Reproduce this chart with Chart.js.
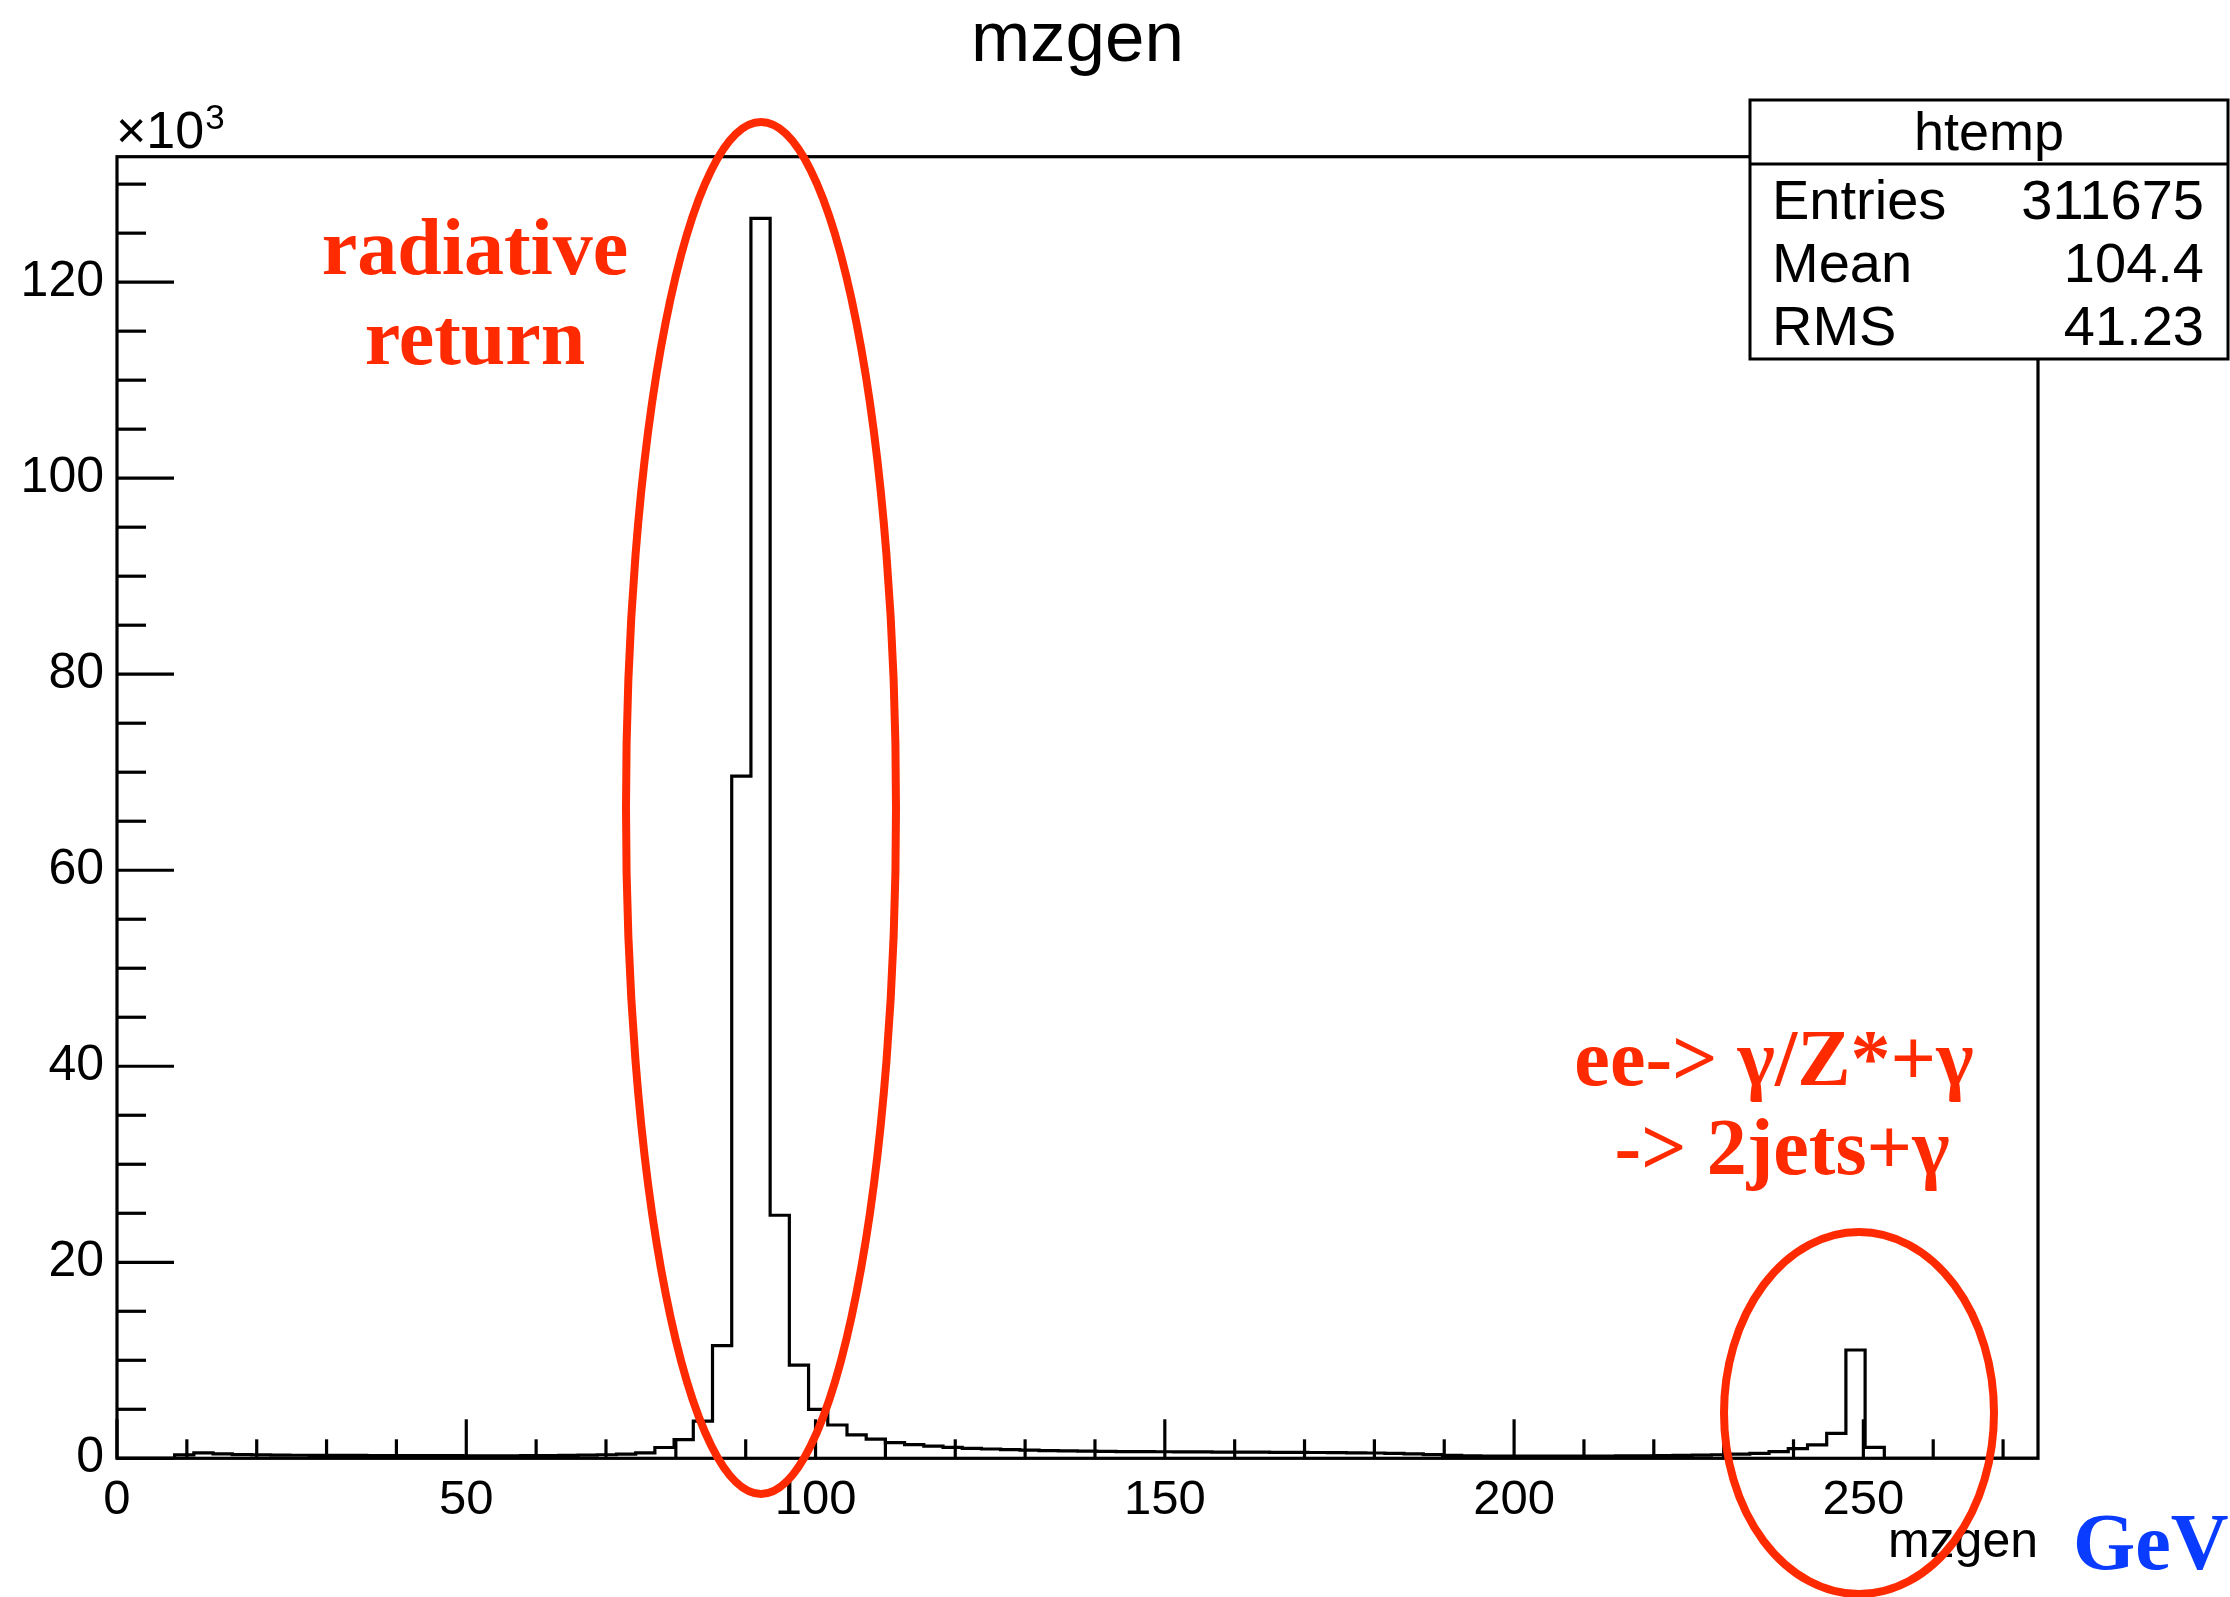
<!DOCTYPE html>
<html><head><meta charset="utf-8">
<script src="https://cdn.jsdelivr.net/npm/chart.js@4/dist/chart.umd.min.js"></script>
<style>html,body{margin:0;padding:0;background:#fff;overflow:hidden}</style>
</head><body>
<canvas id="c" width="2230" height="1597"></canvas>
<script>
// ---- data (counts in units of 10^3 per bin) ----
const xMin = 0;
const xMax = 275;
const nBins = 100;
const counts = [
  0, 0, 0, 0.34, 0.55, 0.45, 0.38, 0.34, 0.32, 0.31,
  0.30, 0.30, 0.29, 0.28, 0.28, 0.27, 0.27, 0.27, 0.26, 0.26,
  0.26, 0.27, 0.28, 0.30, 0.33, 0.36, 0.42, 0.55, 1.1, 1.9,
  3.8, 11.5, 69.6, 126.5, 24.8, 9.5, 5.0, 3.4, 2.4, 1.95,
  1.6, 1.4, 1.25, 1.12, 1.02, 0.95, 0.88, 0.83, 0.79, 0.76,
  0.73, 0.71, 0.69, 0.68, 0.67, 0.66, 0.65, 0.64, 0.63, 0.62,
  0.61, 0.60, 0.59, 0.58, 0.56, 0.54, 0.50, 0.45, 0.38, 0.30,
  0.25, 0.23, 0.22, 0.22, 0.22, 0.22, 0.23, 0.23, 0.24, 0.25,
  0.27, 0.29, 0.32, 0.36, 0.42, 0.50, 0.68, 0.99, 1.36, 2.55,
  11.05, 1.12, 0, 0, 0, 0, 0, 0, 0, 0
];
const xTickLabels = [0, 50, 100, 150, 200, 250];
const yTickLabels = [0, 20, 40, 60, 80, 100, 120];
const yMax = 132.8;
const histTitle = "mzgen";
const xAxisTitle = "mzgen";
const statsName = "htemp";
const statsLabels = ["Entries", "Mean", "RMS"];
const statsValues = ["311675", "104.4", "41.23"];

// ---- build step points from bins ----
const binW = (xMax - xMin) / nBins;
const points = counts.map((c, i) => ({ x: xMin + i * binW, y: c }));
points.push({ x: xMax, y: counts[counts.length - 1] });

const SANS = '"Liberation Sans", Arial, Helvetica, sans-serif';
const SERIF = '"Liberation Serif", "Times New Roman", serif';

const rootDecor = {
  id: 'rootDecor',
  afterDatasetsDraw(chart) {
    const { ctx, chartArea: a, scales: { x, y } } = chart;
    ctx.save();
    ctx.strokeStyle = '#000';
    ctx.lineWidth = 3.2;
    ctx.lineCap = 'butt';
    // x ticks (inward)
    for (let v = 0; v <= xMax; v += 10) {
      const px = x.getPixelForValue(v);
      const len = (v % 50 === 0) ? 39 : 19;
      ctx.beginPath(); ctx.moveTo(px, a.bottom); ctx.lineTo(px, a.bottom - len); ctx.stroke();
    }
    // y ticks (inward)
    for (let v = 0; v <= yMax; v += 5) {
      const py = y.getPixelForValue(v);
      const len = (v % 20 === 0) ? 57 : 29;
      ctx.beginPath(); ctx.moveTo(a.left, py); ctx.lineTo(a.left + len, py); ctx.stroke();
    }
    // frame
    ctx.strokeRect(a.left, a.top, a.right - a.left, a.bottom - a.top);
    // x10^3
    ctx.fillStyle = '#000';
    ctx.textAlign = 'left';
    ctx.textBaseline = 'alphabetic';
    ctx.font = '52px ' + SANS;
    ctx.fillText('\u00d710', a.left - 1, a.top - 9);
    const w = ctx.measureText('\u00d710').width;
    ctx.font = '35px ' + SANS;
    ctx.fillText('3', a.left + w, a.top - 28);
    ctx.restore();
  },
  afterDraw(chart) {
    const { ctx } = chart;
    ctx.save();
    // stats box
    const bx = 1750, by = 100, bw = 478, bh = 259, div = 164;
    ctx.fillStyle = '#fff';
    ctx.fillRect(bx, by, bw, bh);
    ctx.strokeStyle = '#000';
    ctx.lineWidth = 3;
    ctx.strokeRect(bx, by, bw, bh);
    ctx.beginPath(); ctx.moveTo(bx, div); ctx.lineTo(bx + bw, div); ctx.stroke();
    ctx.fillStyle = '#000';
    ctx.textBaseline = 'alphabetic';
    ctx.font = '54px ' + SANS;
    ctx.textAlign = 'center';
    ctx.fillText(statsName, bx + bw / 2, 150);
    ctx.font = '56px ' + SANS;
    const rowsY = [219, 282, 345];
    statsLabels.forEach((lab, i) => {
      ctx.textAlign = 'left';
      ctx.fillText(lab, 1772, rowsY[i]);
      ctx.textAlign = 'right';
      ctx.fillText(statsValues[i], 2204, rowsY[i]);
    });

    // red ellipses
    ctx.strokeStyle = '#ff2a00';
    ctx.lineWidth = 8;
    ctx.beginPath(); ctx.ellipse(761, 808, 135, 686, 0, 0, Math.PI * 2); ctx.stroke();
    ctx.beginPath(); ctx.ellipse(1859, 1413, 135, 181, 0, 0, Math.PI * 2); ctx.stroke();

    // annotations
    ctx.fillStyle = '#ff2a00';
    ctx.textAlign = 'center';
    ctx.font = 'bold 80px ' + SERIF;
    ctx.fillText('radiative', 475, 274);
    ctx.fillText('return', 475, 364);
    ctx.fillText('ee-> \u03b3/Z*+\u03b3', 1774, 1085);
    ctx.fillText('-> 2jets+\u03b3', 1782, 1174);
    ctx.fillStyle = '#0a3cff';
    ctx.textAlign = 'left';
    ctx.fillText('GeV', 2073, 1569);
    ctx.restore();
  }
};

new Chart(document.getElementById('c'), {
  type: 'line',
  data: {
    datasets: [{
      label: statsName,
      data: points,
      stepped: true,
      borderColor: '#000',
      borderWidth: 3.2,
      borderJoinStyle: 'miter',
      borderCapStyle: 'butt',
      pointRadius: 0,
      fill: false,
      tension: 0
    }]
  },
  options: {
    responsive: false,
    devicePixelRatio: 1,
    animation: false,
    layout: { padding: { left: 0, right: 192, top: 0, bottom: 0 } },
    plugins: {
      legend: { display: false },
      tooltip: { enabled: false },
      title: {
        display: true,
        text: histTitle,
        color: '#000',
        fullSize: false,
        font: { family: SANS, size: 71, weight: 'normal', lineHeight: 1 },
        padding: { top: 6, bottom: 79.7 }
      }
    },
    scales: {
      x: {
        type: 'linear', min: xMin, max: xMax,
        grid: { display: false, drawTicks: false },
        border: { display: false },
        ticks: {
          stepSize: 10, autoSkip: false, maxRotation: 0, padding: 13,
          color: '#000', font: { family: SANS, size: 49 },
          callback: (v) => xTickLabels.includes(v) ? String(v) : ''
        },
        title: {
          display: true, text: xAxisTitle, align: 'end', color: '#000',
          font: { family: SANS, size: 50, lineHeight: 1 },
          padding: { top: 0, bottom: 29 }
        },
        afterFit(s) { s.height = 138.7; }
      },
      y: {
        type: 'linear', min: 0, max: yMax,
        grid: { display: false, drawTicks: false },
        border: { display: false },
        ticks: {
          stepSize: 5, autoSkip: false, padding: 13,
          color: '#000', font: { family: SANS, size: 50 },
          callback: (v) => yTickLabels.includes(v) ? String(v) : ''
        },
        afterFit(s) { s.width = 117; }
      }
    }
  },
  plugins: [rootDecor]
});
</script>
</body></html>
